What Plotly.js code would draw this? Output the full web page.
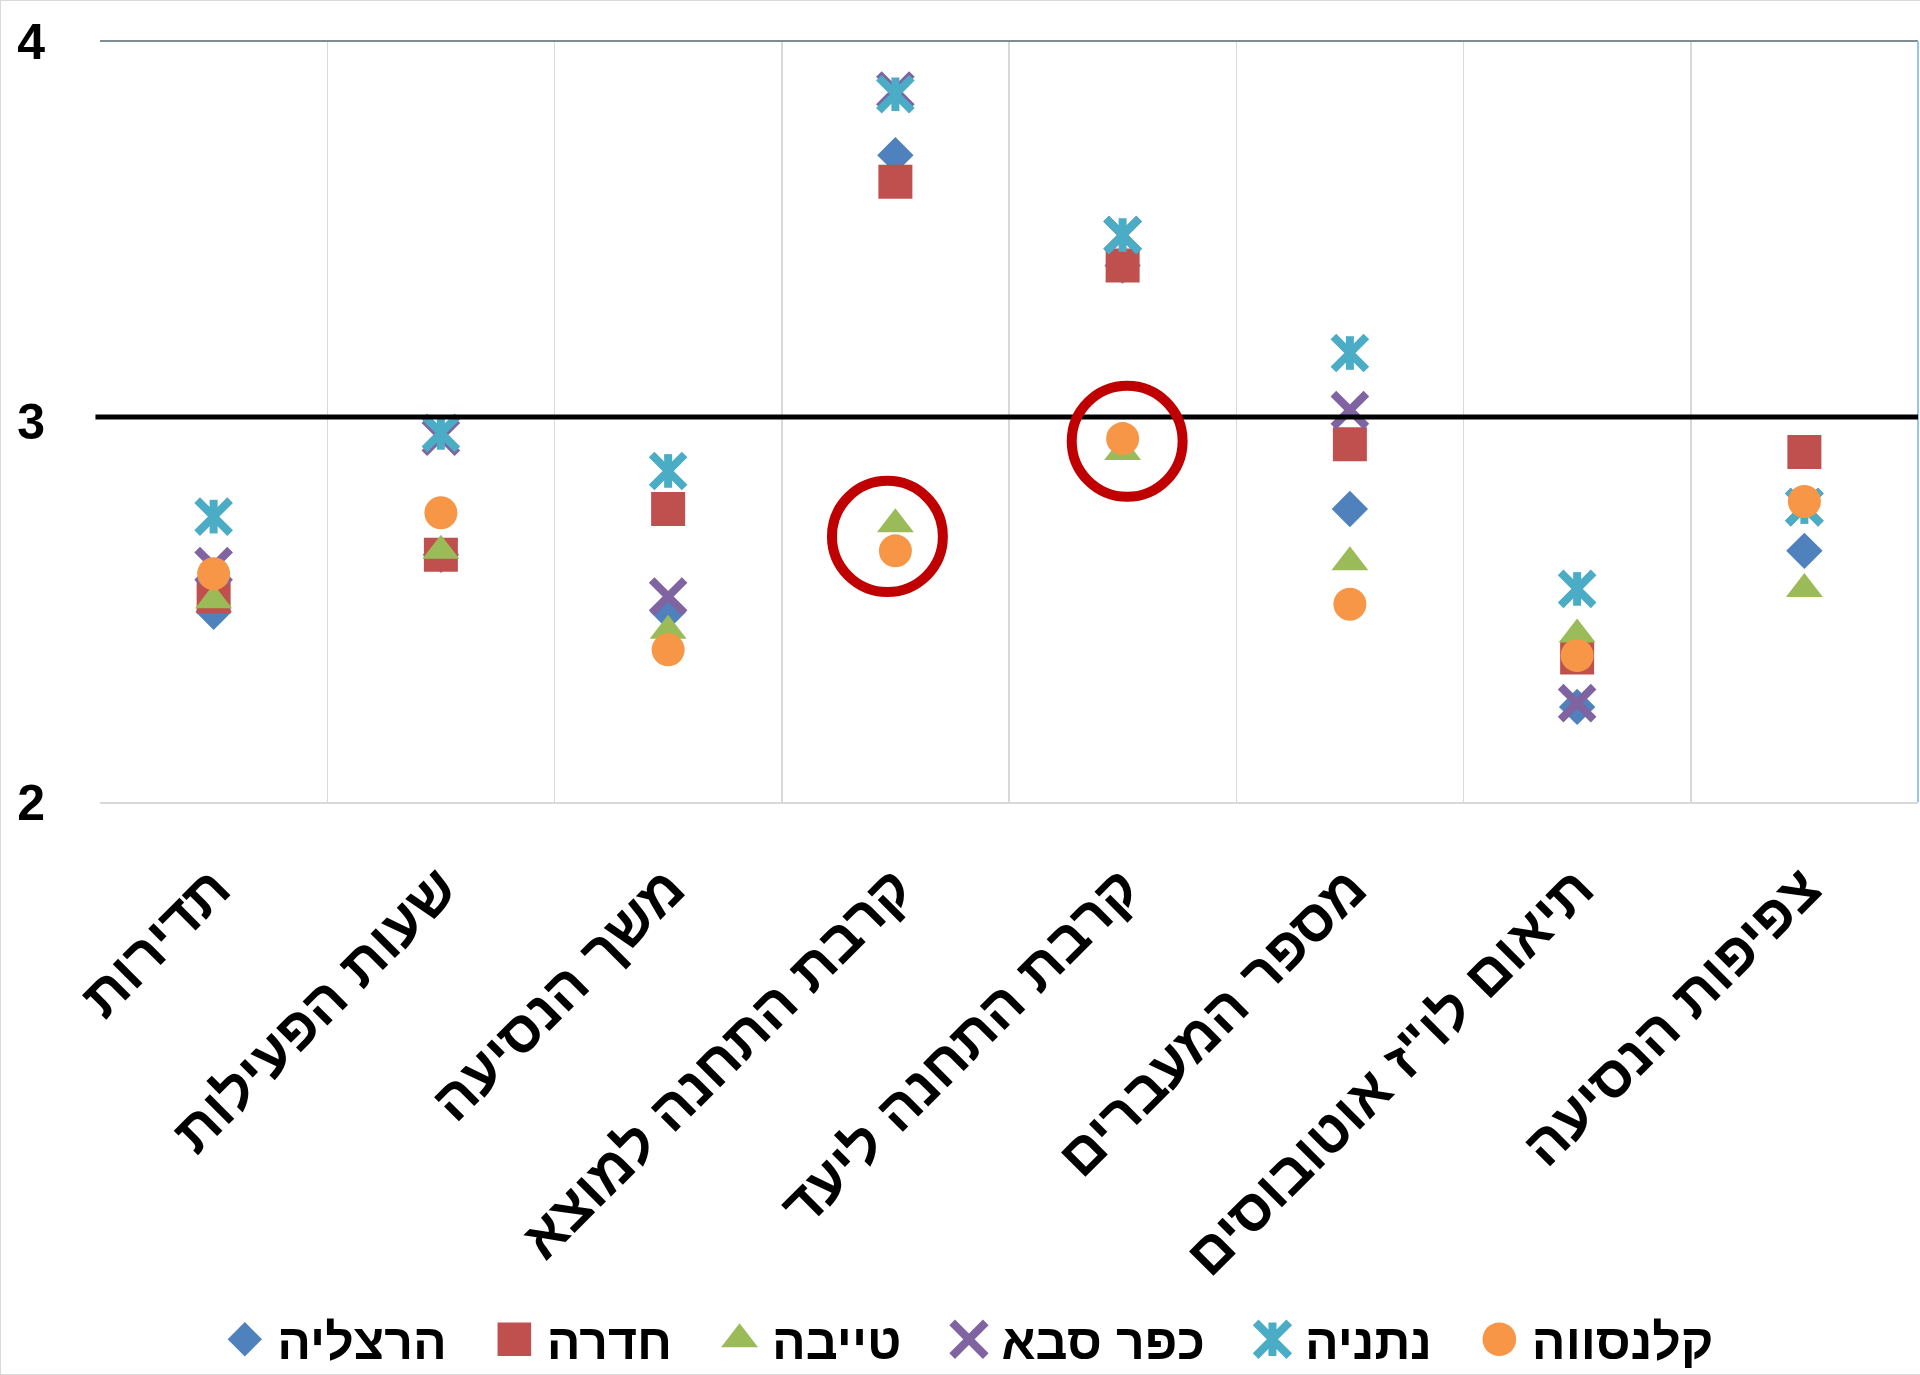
<!DOCTYPE html>
<html>
<head>
<meta charset="utf-8">
<script src="https://cdn.plot.ly/plotly-3.0.1.min.js"></script>
<style>
  html, body { margin: 0; padding: 0; background: #ffffff; }
  #chart { width: 1920px; height: 1375px; box-shadow: inset 1px 1px 0 0 #d9d9d9, inset 0 -1px 0 0 #d9d9d9; }
</style>
</head>
<body>
<div id="chart"></div>
<script>
// ---- data ----
const categories = ['תדירות', 'שעות הפעילות', 'משך הנסיעה', 'קרבת התחנה למוצא', 'קרבת התחנה ליעד', 'מספר המעברים', 'תיאום לו"ז אוטובוסים', 'צפיפות הנסיעה'];
const seriesNames = ['הרצליה', 'חדרה', 'טייבה', 'כפר סבא', 'נתניה', 'קלנסווה'];
const herzliya  = [2.50, 2.65, 2.50, 3.70, 3.41, 2.77, 2.25, 2.66];
const hadera    = [2.54, 2.65, 2.77, 3.63, 3.41, 2.94, 2.38, 2.92];
const tayibe    = [2.53, 2.66, 2.45, 2.73, 2.92, 2.63, 2.44, 2.56];
const kfarSaba  = [2.62, 2.96, 2.54, 3.87, 3.49, 3.03, 2.26, 2.775];
const netanya   = [2.75, 2.97, 2.87, 3.86, 3.49, 3.18, 2.56, 2.775];
const kalansawe = [2.60, 2.76, 2.40, 2.66, 2.955, 2.52, 2.385, 2.79];
const yTicks = [2, 3, 4];
const referenceLevel = 3;

// ---- styles ----
const FONT = '"Liberation Sans", Arial, "DejaVu Sans", sans-serif';
const colors = ['#4F81BD', '#C0504D', '#9BBB59', '#8064A2', '#4BACC6', '#F79646'];

function pts(name, y, color, symbol, size, lw, extra) {
  return Object.assign({
    type: 'scatter', mode: 'markers', name: name, x: categories, y: y,
    marker: { symbol: symbol, size: size, color: color,
              line: { width: lw, color: color } },
    hoverinfo: 'skip'
  }, extra || {});
}

const traces = [
  pts(seriesNames[0], herzliya,  colors[0], 'diamond', 28, 0),
  pts(seriesNames[1], hadera,    colors[1], 'square', 34, 0),
  pts(seriesNames[2], tayibe,    colors[2], 'triangle-up', 32, 0),
  pts(seriesNames[3], kfarSaba,  colors[3], 'x-thin-open', 33, 8),
  pts(seriesNames[4], netanya,   colors[4], 'x-thin-open', 33, 8, { legendgroup: 'n' }),
  pts(seriesNames[4], netanya,   colors[4], 'line-ns-open', 24, 8, { legendgroup: 'n', showlegend: false }),
  pts(seriesNames[5], kalansawe, colors[5], 'circle', 33, 0)
];

const layout = {
  width: 1920, height: 1375,
  margin: { l: 100, r: 2, t: 41, b: 573, autoexpand: false },
  paper_bgcolor: 'rgba(0,0,0,0)',
  plot_bgcolor: '#ffffff',
  font: { family: FONT, color: '#000000' },
  showlegend: true,
  xaxis: {
    type: 'category', range: [-0.5, 7.5], tickson: 'boundaries', automargin: false,
    showgrid: true, gridcolor: '#d9d9d9', gridwidth: 1.5,
    showline: true, linecolor: '#d9d9d9', linewidth: 2,
    ticks: '', tickangle: -45, ticklabelstandoff: 28,
    tickfont: { family: FONT, size: 57, color: '#000000', weight: 'bold' },
    fixedrange: true
  },
  yaxis: {
    range: [2, 4], tickvals: yTicks, ticktext: yTicks.map(String), automargin: false,
    showgrid: false, zeroline: false, showline: false, ticks: '',
    ticklabelstandoff: 54,
    tickfont: { family: FONT, size: 50, color: '#000000', weight: 'bold' },
    fixedrange: true
  },
  legend: {
    orientation: 'h', xref: 'paper', x: 0.468, xanchor: 'center',
    yref: 'container', y: 0.026, yanchor: 'middle',
    font: { family: FONT, size: 50, color: '#000000', weight: 'bold' },
    itemwidth: 85, bgcolor: 'rgba(0,0,0,0)'
  },
  shapes: [
    { type: 'line', xref: 'paper', yref: 'paper', x0: 0, x1: 1, y0: 1, y1: 1,
      line: { color: '#7f8c96', width: 2 } },
    { type: 'line', xref: 'paper', yref: 'paper', x0: 1, x1: 1, y0: 0, y1: 1,
      line: { color: '#9dc3e6', width: 2 } },
    { type: 'line', xref: 'paper', yref: 'y', x0: -0.0025, x1: 1, y0: referenceLevel + 0.012, y1: referenceLevel + 0.012,
      line: { color: '#000000', width: 5 } },
    { type: 'circle', xref: 'x', yref: 'y', x0: 2.721, x1: 3.209, y0: 2.552, y1: 2.844,
      line: { color: '#C00000', width: 10 } },
    { type: 'circle', xref: 'x', yref: 'y', x0: 3.776, x1: 4.264, y0: 2.802, y1: 3.094,
      line: { color: '#C00000', width: 10 } }
  ]
};

Plotly.newPlot('chart', traces, layout, { staticPlot: true, displayModeBar: false }).then(function (gd) {
  // enlarge legend symbols to match the large markers of the original
  const scales = [1.65, 2.1, 2.0, 2.1, 2.1, 2.1];
  gd.querySelectorAll('.legend .traces').forEach(function (item, i) {
    const s = scales[i] || 2.1;
    item.querySelectorAll('.legendpoints path.scatterpts').forEach(function (p) {
      const t = p.getAttribute('transform') || '';
      const m = t.match(/translate\(([-\d.]+)[ ,]+([-\d.]+)\)/);
      const tx = m ? parseFloat(m[1]) + 15 : 57;
      const ty = m ? parseFloat(m[2]) : 0;
      p.setAttribute('transform', 'translate(' + tx + ',' + ty + ') scale(' + s + ')');
      if (i === 3 || i === 4) {
        p.style.strokeWidth = (8 / s) + 'px';
      }
      if (i === 4) {
        // Excel "star" marker: an X with a vertical bar
        p.setAttribute('d', (p.getAttribute('d') || '') + 'M0,8V-8');
      }
    });
  });
});
</script>
</body>
</html>
